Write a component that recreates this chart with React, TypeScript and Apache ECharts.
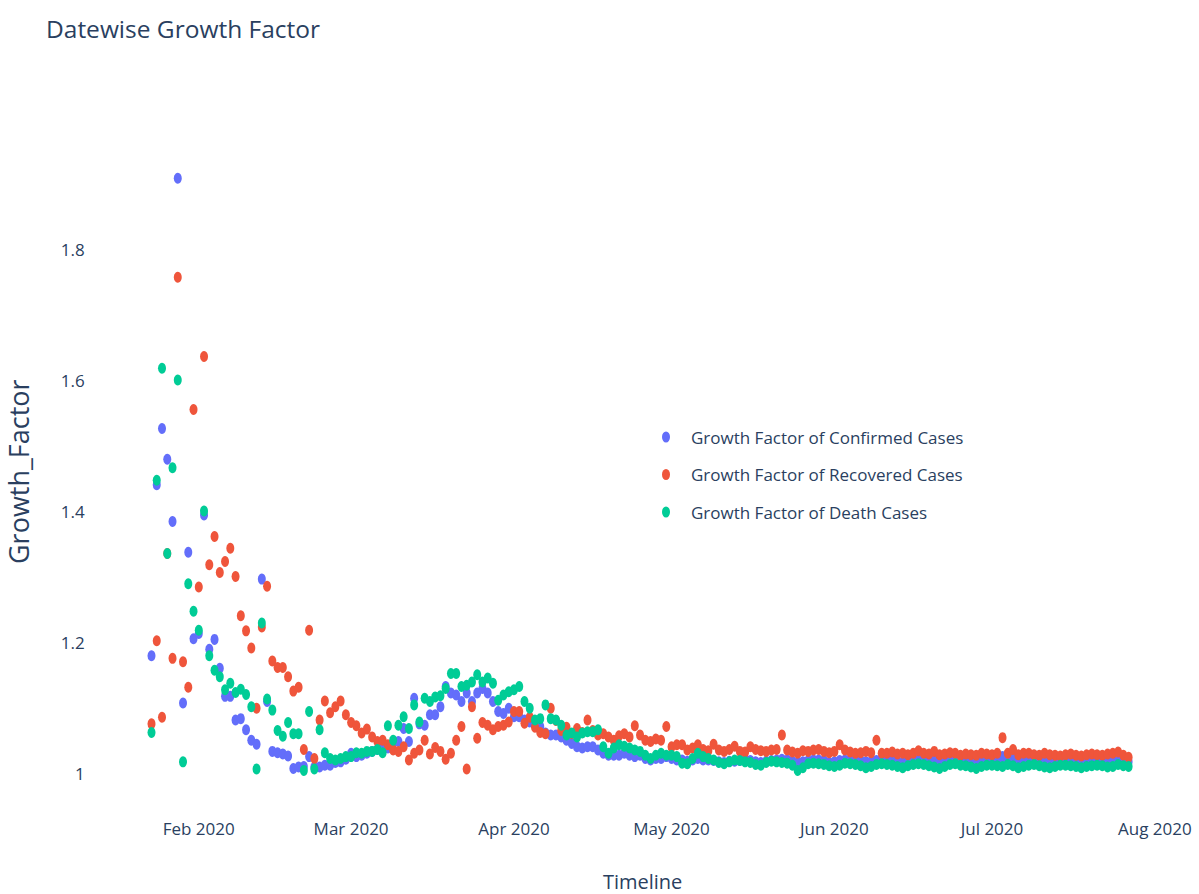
import React, { useEffect, useRef } from "react";
import * as echarts from "echarts";

// ---- data (growth factor per day, Jan 23 2020 .. Jul 27 2020) ----
const confirmedJan = [1.179, 1.44, 1.526, 1.479, 1.384, 1.908, 1.107, 1.337, 1.205];
const confirmedFeb = [1.213, 1.394, 1.189, 1.204, 1.16, 1.117, 1.117, 1.081, 1.083, 1.066, 1.05, 1.044, 1.296, 1.109, 1.033, 1.031, 1.029, 1.026, 1.007, 1.009, 1.01, 1.025, 1.009, 1.009, 1.012, 1.012, 1.016, 1.017, 1.021];
const confirmedMar = [1.03, 1.025, 1.027, 1.03, 1.033, 1.036, 1.038, 1.038, 1.046, 1.048, 1.068, 1.048, 1.114, 1.075, 1.073, 1.089, 1.089, 1.101, 1.132, 1.122, 1.119, 1.109, 1.122, 1.109, 1.122, 1.129, 1.122, 1.109, 1.094, 1.091, 1.099];
const confirmedApr = [1.086, 1.086, 1.081, 1.078, 1.073, 1.071, 1.061, 1.058, 1.058, 1.055, 1.05, 1.045, 1.04, 1.038, 1.04, 1.04, 1.035, 1.03, 1.027, 1.027, 1.027, 1.03, 1.027, 1.025, 1.027, 1.022, 1.02, 1.022, 1.022, 1.025];
const confirmedMay = [1.022, 1.02, 1.02, 1.018, 1.02, 1.022, 1.02, 1.02, 1.019, 1.017, 1.016, 1.018, 1.018, 1.019, 1.02, 1.019, 1.017, 1.016, 1.018, 1.019, 1.02, 1.021, 1.02, 1.018, 1.016, 1.017, 1.019, 1.02, 1.02, 1.019, 1.016];
const confirmedJun = [1.017, 1.019, 1.02, 1.02, 1.021, 1.019, 1.017, 1.018, 1.019, 1.02, 1.021, 1.02, 1.018, 1.016, 1.018, 1.019, 1.02, 1.021, 1.021, 1.019, 1.017, 1.018, 1.02, 1.021, 1.02, 1.02, 1.018, 1.016, 1.017, 1.019];
const confirmedJul = [1.019, 1.02, 1.025, 1.018, 1.022, 1.017, 1.019, 1.019, 1.02, 1.02, 1.018, 1.016, 1.017, 1.018, 1.019, 1.02, 1.02, 1.018, 1.016, 1.017, 1.018, 1.019, 1.023, 1.02, 1.018, 1.016, 1.017];

const recoveredJan = [1.075, 1.202, 1.085, 1.335, 1.175, 1.757, 1.17, 1.131, 1.555];
const recoveredFeb = [1.284, 1.636, 1.318, 1.361, 1.306, 1.323, 1.343, 1.3, 1.24, 1.217, 1.191, 1.099, 1.223, 1.285, 1.171, 1.161, 1.161, 1.147, 1.125, 1.131, 1.036, 1.218, 1.022, 1.081, 1.11, 1.092, 1.101, 1.11, 1.089];
const recoveredMar = [1.077, 1.072, 1.061, 1.067, 1.055, 1.048, 1.05, 1.043, 1.035, 1.033, 1.04, 1.02, 1.03, 1.035, 1.05, 1.029, 1.039, 1.033, 1.021, 1.03, 1.05, 1.071, 1.006, 1.101, 1.053, 1.077, 1.073, 1.066, 1.071, 1.073, 1.078];
const recoveredApr = [1.094, 1.094, 1.076, 1.085, 1.07, 1.062, 1.06, 1.099, 1.08, 1.065, 1.07, 1.06, 1.068, 1.062, 1.081, 1.065, 1.058, 1.06, 1.055, 1.05, 1.057, 1.06, 1.055, 1.072, 1.058, 1.05, 1.048, 1.052, 1.05, 1.071];
const recoveredMay = [1.04, 1.043, 1.043, 1.035, 1.038, 1.043, 1.036, 1.034, 1.044, 1.035, 1.033, 1.036, 1.041, 1.033, 1.032, 1.04, 1.036, 1.034, 1.033, 1.035, 1.036, 1.058, 1.035, 1.032, 1.03, 1.034, 1.033, 1.035, 1.036, 1.033, 1.031];
const recoveredJun = [1.033, 1.043, 1.035, 1.032, 1.03, 1.031, 1.033, 1.031, 1.05, 1.03, 1.03, 1.032, 1.029, 1.03, 1.028, 1.03, 1.034, 1.03, 1.029, 1.033, 1.028, 1.029, 1.031, 1.03, 1.027, 1.029, 1.028, 1.027, 1.03, 1.029];
const recoveredJul = [1.028, 1.03, 1.054, 1.03, 1.036, 1.028, 1.03, 1.03, 1.028, 1.027, 1.03, 1.028, 1.027, 1.026, 1.028, 1.029, 1.027, 1.026, 1.028, 1.029, 1.028, 1.027, 1.029, 1.03, 1.032, 1.027, 1.024];

const deathJan = [1.062, 1.447, 1.618, 1.335, 1.466, 1.6, 1.017, 1.289, 1.247];
const deathFeb = [1.218, 1.4, 1.179, 1.157, 1.147, 1.127, 1.137, 1.123, 1.128, 1.12, 1.101, 1.006, 1.229, 1.113, 1.096, 1.065, 1.056, 1.077, 1.06, 1.06, 1.004, 1.094, 1.006, 1.066, 1.031, 1.022, 1.02, 1.022, 1.025];
const deathMar = [1.025, 1.031, 1.03, 1.033, 1.033, 1.036, 1.031, 1.072, 1.05, 1.073, 1.086, 1.068, 1.104, 1.078, 1.114, 1.109, 1.116, 1.118, 1.129, 1.152, 1.152, 1.132, 1.134, 1.139, 1.15, 1.139, 1.145, 1.137, 1.111, 1.119, 1.124];
const deathApr = [1.127, 1.132, 1.109, 1.099, 1.081, 1.083, 1.104, 1.083, 1.081, 1.073, 1.058, 1.061, 1.055, 1.061, 1.063, 1.063, 1.066, 1.04, 1.03, 1.038, 1.043, 1.041, 1.038, 1.035, 1.033, 1.027, 1.022, 1.027, 1.03, 1.027];
const deathMay = [1.027, 1.025, 1.015, 1.014, 1.022, 1.03, 1.025, 1.022, 1.02, 1.016, 1.014, 1.017, 1.02, 1.019, 1.017, 1.016, 1.013, 1.012, 1.016, 1.018, 1.017, 1.016, 1.015, 1.012, 1.004, 1.008, 1.014, 1.015, 1.014, 1.013, 1.011];
const deathJun = [1.01, 1.012, 1.015, 1.014, 1.013, 1.011, 1.008, 1.01, 1.013, 1.014, 1.013, 1.012, 1.01, 1.008, 1.011, 1.013, 1.014, 1.013, 1.011, 1.009, 1.007, 1.01, 1.013, 1.014, 1.012, 1.011, 1.009, 1.007, 1.01, 1.012];
const deathJul = [1.012, 1.011, 1.01, 1.013, 1.011, 1.008, 1.01, 1.012, 1.013, 1.011, 1.009, 1.008, 1.01, 1.012, 1.012, 1.011, 1.01, 1.008, 1.01, 1.011, 1.012, 1.011, 1.009, 1.01, 1.013, 1.011, 1.01];

const seriesNames = [
  "Growth Factor of Confirmed Cases",
  "Growth Factor of Recovered Cases",
  "Growth Factor of Death Cases",
];
const monthNames = ["Jan", "Feb", "Mar", "Apr", "May", "Jun", "Jul", "Aug", "Sep", "Oct", "Nov", "Dec"];
const yTicks = [1, 1.2, 1.4, 1.6, 1.8];

const confirmed = [...confirmedJan, ...confirmedFeb, ...confirmedMar, ...confirmedApr, ...confirmedMay, ...confirmedJun, ...confirmedJul];
const recovered = [...recoveredJan, ...recoveredFeb, ...recoveredMar, ...recoveredApr, ...recoveredMay, ...recoveredJun, ...recoveredJul];
const deaths = [...deathJan, ...deathFeb, ...deathMar, ...deathApr, ...deathMay, ...deathJun, ...deathJul];

const DAY = 86400000;
const startTime = new Date(2020, 0, 23).getTime();
const toPairs = (vals: number[]) => vals.map((v, i) => [startTime + i * DAY, v]);

const COLORS = ["#636efa", "#EF553B", "#00cc96"];
const TEXT = "#2a3f5f";
const FONT = "'Open Sans', 'Noto Sans', sans-serif";
const ELLIPSE = "path://M0,5.5a4,5.5 0 1,0 8,0a4,5.5 0 1,0 -8,0";

export default function App() {
  const ref = useRef<HTMLDivElement>(null);
  useEffect(() => {
    if (!ref.current) return;
    const chart = echarts.init(ref.current, null, { renderer: "svg" });
    const xMin = new Date(2020, 0, 16).getTime();
    const xMax = new Date(2020, 7, 4).getTime();
    const gridLeft = 114.7;
    const gridWidth = 1055.9;
    const gridTop = 144.2;
    const gridHeight = 655;
    chart.setOption({
      animation: false,
      backgroundColor: "#ffffff",
      title: {
        text: "Datewise Growth Factor",
        left: 41,
        top: 11,
        textStyle: { color: TEXT, fontFamily: FONT, fontSize: 24.5, fontWeight: "normal" },
      },
      legend: {
        orient: "vertical",
        left: 657,
        top: 422,
        itemWidth: 8,
        itemHeight: 11,
        itemGap: 17.5,
        icon: ELLIPSE,
        data: seriesNames,
        textStyle: {
          color: TEXT,
          fontFamily: FONT,
          fontSize: 17,
          lineHeight: 20,
          padding: [0, 0, 0, 16],
        },
      },
      grid: {
        left: gridLeft,
        top: gridTop,
        width: gridWidth,
        height: gridHeight,
        containLabel: false,
        outerBoundsMode: "none",
      },
      xAxis: {
        type: "time",
        min: xMin,
        max: xMax,
        minInterval: 28 * DAY,
        maxInterval: 31 * DAY,
        name: "Timeline",
        nameLocation: "middle",
        nameGap: 72,
        nameTextStyle: { color: TEXT, fontFamily: FONT, fontSize: 20 },
        axisLine: { show: false },
        axisTick: { show: false },
        splitLine: { show: false },
        axisLabel: {
          formatter: (v: number) => {
            const d = new Date(v);
            return monthNames[d.getMonth()] + " " + d.getFullYear();
          },
          color: TEXT,
          fontFamily: FONT,
          fontSize: 17,
          margin: 21,
          hideOverlap: false,
          showMinLabel: false,
          showMaxLabel: false,
        },
      },
      yAxis: {
        type: "value",
        min: 0.96,
        max: 1.96,
        name: "Growth_Factor",
        nameLocation: "middle",
        nameGap: 83,
        nameRotate: 90,
        nameTextStyle: { color: TEXT, fontFamily: FONT, fontSize: 27 },
        axisLine: { show: false },
        axisTick: { show: false },
        splitLine: { show: false },
        axisLabel: {
          customValues: yTicks,
          formatter: (v: number) => String(Math.round(v * 10) / 10),
          color: TEXT,
          fontFamily: FONT,
          fontSize: 17,
          margin: 30,
        },
      },
      series: [confirmed, recovered, deaths].map((vals, i) => ({
        name: seriesNames[i],
        type: "scatter",
        data: toPairs(vals),
        symbol: "circle",
        symbolSize: [8, 11],
        itemStyle: { color: COLORS[i], opacity: 1 },
        emphasis: { disabled: true },
      })),
    });
    return () => chart.dispose();
  }, []);
  return (
    <div
      ref={ref}
      style={{ position: "fixed", left: 0, top: 0, width: 1199, height: 894, background: "#fff" }}
    />
  );
}
